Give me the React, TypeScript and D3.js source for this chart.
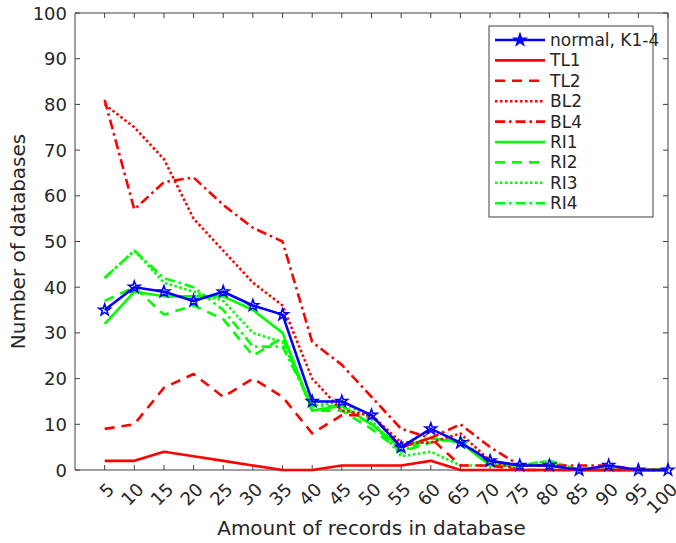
import React from "react";
import * as d3 from "d3";

const records = [5, 10, 15, 20, 25, 30, 35, 40, 45, 50, 55, 60, 65, 70, 75, 80, 85, 90, 95, 100];
const yTicks = [0, 10, 20, 30, 40, 50, 60, 70, 80, 90, 100];

const normalK14 = [35, 40, 39, 37, 39, 36, 34, 15, 15, 12, 5, 9, 6, 2, 1, 1, 0, 1, 0, 0];
const tl1 = [2, 2, 4, 3, 2, 1, 0, 0, 1, 1, 1, 2, 0, 0, 0, 0, 0, 0, 0, 0];
const tl2 = [9, 10, 18, 21, 16, 20, 16, 8, 12, 12, 5, 7, 1, 1, 0, 0, 0, 0, 0, 0];
const bl2 = [80, 75, 68, 55, 48, 41, 36, 20, 13, 12, 6, 6, 8, 2, 0, 0, 0, 0, 0, 0];
const bl4 = [81, 57, 63, 64, 58, 53, 50, 28, 23, 16, 9, 7, 10, 5, 1, 1, 1, 1, 0, 0];
const ri1 = [32, 39, 38, 38, 38, 35, 30, 13, 14, 10, 5, 7, 6, 1, 1, 1, 0, 0, 0, 0];
const ri2 = [37, 40, 34, 36, 33, 25, 29, 13, 13, 9, 4, 6, 7, 1, 1, 1, 0, 0, 0, 0];
const ri3 = [42, 48, 41, 39, 37, 30, 28, 14, 15, 11, 3, 4, 1, 1, 1, 2, 0, 0, 0, 0];
const ri4 = [42, 48, 42, 40, 35, 27, 27, 14, 14, 10, 4, 7, 6, 2, 1, 2, 0, 0, 0, 0];

type Series = { name: string; values: number[]; color: string; dash: string; star?: boolean };

const series: Series[] = [
  { name: "normal, K1-4", values: normalK14, color: "#0000ff", dash: "", star: true },
  { name: "TL1", values: tl1, color: "#ff0000", dash: "" },
  { name: "TL2", values: tl2, color: "#ff0000", dash: "10,7" },
  { name: "BL2", values: bl2, color: "#ff0000", dash: "2.5,2.5" },
  { name: "BL4", values: bl4, color: "#ff0000", dash: "10,4,2.5,4" },
  { name: "RI1", values: ri1, color: "#00ff00", dash: "" },
  { name: "RI2", values: ri2, color: "#00ff00", dash: "10,7" },
  { name: "RI3", values: ri3, color: "#00ff00", dash: "2.5,2.5" },
  { name: "RI4", values: ri4, color: "#00ff00", dash: "10,4,2.5,4" },
];

const W = 676;
const H = 543;
const margin = { left: 75, right: 8, top: 13, bottom: 73 };
const font = "DejaVu Sans, sans-serif";
const textColor = "#262626";
const axisColor = "#404040";

function starPath(cx: number, cy: number, r: number): string {
  const pts: string[] = [];
  for (let i = 0; i < 10; i++) {
    const rr = i % 2 === 0 ? r : r * 0.4;
    const a = -Math.PI / 2 + (i * Math.PI) / 5;
    pts.push(`${(cx + rr * Math.cos(a)).toFixed(2)},${(cy + rr * Math.sin(a)).toFixed(2)}`);
  }
  return "M" + pts.join("L") + "Z";
}

export default function App() {
  const x = d3.scaleLinear().domain([0, 100]).range([margin.left, W - margin.right]);
  const y = d3.scaleLinear().domain([0, 100]).range([H - margin.bottom, margin.top]);
  const line = d3
    .line<number>()
    .x((_, i) => x(records[i]))
    .y((d) => y(d));

  const x0 = x(0);
  const x1 = x(100);
  const y0 = y(0);
  const y1 = y(100);

  const legendX = 489;
  const legendY = 26;
  const legendW = 164;
  const legendH = 191;
  const rowH = 20.4;

  return (
    <svg width={W} height={H} style={{ position: "absolute", left: 0, top: 0, background: "#fff" }}>
      <rect x={0} y={0} width={W} height={H} fill="#fff" />
      {/* axes box */}
      <g stroke={axisColor} strokeWidth={1} fill="none">
        <line x1={x0} y1={y0} x2={x1} y2={y0} />
        <line x1={x0} y1={y1} x2={x1} y2={y1} />
        <line x1={x0} y1={y0} x2={x0} y2={y1} />
        <line x1={x1} y1={y0} x2={x1} y2={y1} />
        {records.map((r) => (
          <g key={"xt" + r}>
            <line x1={x(r)} x2={x(r)} y1={y0} y2={y0 - 5} />
            <line x1={x(r)} x2={x(r)} y1={y1} y2={y1 + 5} />
          </g>
        ))}
        {yTicks.map((t) => (
          <g key={"yt" + t}>
            <line x1={x0} x2={x0 + 5} y1={y(t)} y2={y(t)} />
            <line x1={x1} x2={x1 - 5} y1={y(t)} y2={y(t)} />
          </g>
        ))}
      </g>
      {/* tick labels */}
      <g fill={textColor} fontFamily={font} fontSize={18}>
        {yTicks.map((t) => (
          <text key={"yl" + t} x={x0 - 8} y={y(t)} textAnchor="end" dominantBaseline="central">
            {t}
          </text>
        ))}
        {records.map((r) => (
          <text
            key={"xl" + r}
            transform={`translate(${x(r) + 6},${y0 + 16}) rotate(-45)`}
            textAnchor="end"
            dominantBaseline="central"
          >
            {r}
          </text>
        ))}
      </g>
      <text
        x={(x0 + x1) / 2}
        y={535}
        textAnchor="middle"
        fontFamily={font}
        fontSize={20}
        fill={textColor}
      >
        Amount of records in database
      </text>
      <text
        transform={`translate(25,${(y0 + y1) / 2}) rotate(-90)`}
        textAnchor="middle"
        fontFamily={font}
        fontSize={20}
        fill={textColor}
      >
        Number of databases
      </text>
      {/* series lines, drawn back to front */}
      <g fill="none" strokeWidth={2.6} strokeLinejoin="round">
        {series
          .slice()
          .reverse()
          .map((s) => (
            <path key={s.name} d={line(s.values) || ""} stroke={s.color} strokeDasharray={s.dash} />
          ))}
        {series
          .filter((s) => s.star)
          .map((s) =>
            s.values.map((v, i) => (
              <path
                key={s.name + i}
                d={starPath(x(records[i]), y(v), 6)}
                stroke={s.color}
                strokeWidth={1.6}
                fill="none"
                strokeLinejoin="miter"
              />
            ))
          )}
      </g>
      {/* legend */}
      <rect x={legendX} y={legendY} width={legendW} height={legendH} fill="#fff" stroke={axisColor} strokeWidth={1} />
      {series.map((s, i) => {
        const cy = legendY + 14 + i * rowH;
        return (
          <g key={"lg" + s.name}>
            <line
              x1={495}
              x2={545}
              y1={cy}
              y2={cy}
              stroke={s.color}
              strokeWidth={2.6}
              strokeDasharray={s.dash}
            />
            {s.star && (
              <path d={starPath(520, cy, 6)} stroke={s.color} strokeWidth={1.6} fill={s.color} />
            )}
            <text x={550} y={cy} dominantBaseline="central" fontFamily={font} fontSize={17} fill={textColor}>
              {s.name}
            </text>
          </g>
        );
      })}
    </svg>
  );
}
